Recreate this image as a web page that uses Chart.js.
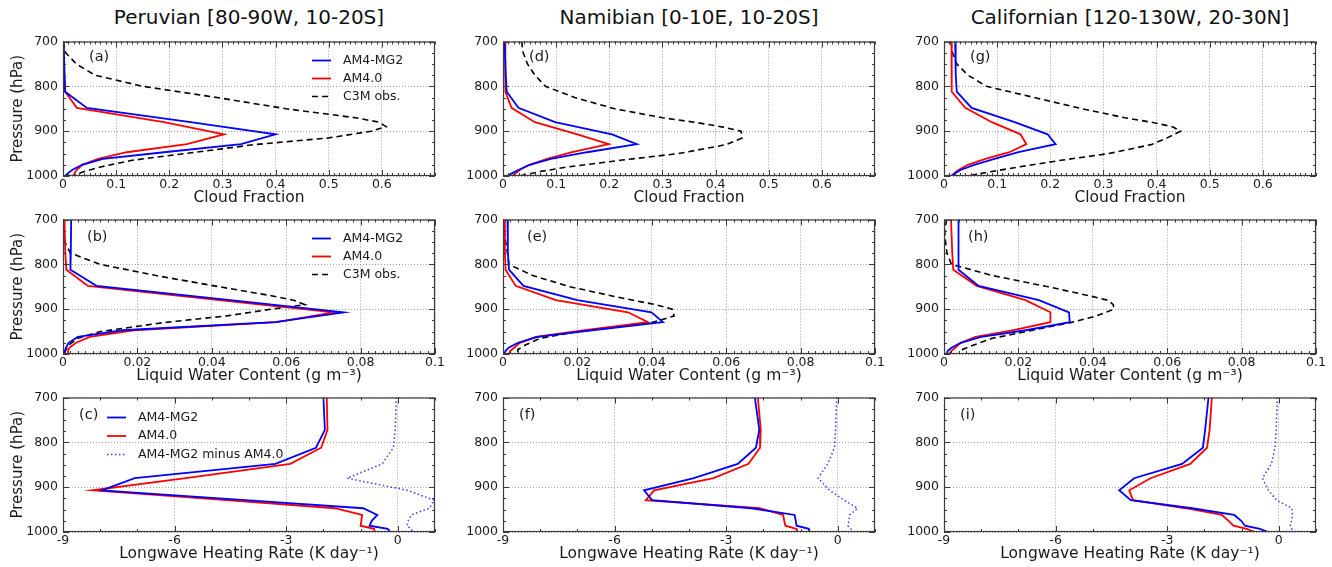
<!DOCTYPE html>
<html>
<head>
<meta charset="utf-8">
<script src="https://cdn.jsdelivr.net/npm/chart.js@4.4.1/dist/chart.umd.min.js"></script>
<style>
  body { margin: 0; background: #fff; width: 1332px; height: 567px; position: relative; overflow: hidden; font-family: "DejaVu Sans", sans-serif; }
  .panel { position: absolute; }
  .coltitle { position: absolute; top: 5px; font-size: 20px; color: #111; white-space: nowrap; transform: translateX(-50%); }
</style>
</head>
<body>
<script>
// pressure levels (hPa)
const LEV = [700, 772, 812, 848, 880, 907, 929, 947, 962, 975, 986, 993, 1000];
const OBS_LEV = [700, 725, 750, 775, 800, 825, 850, 870, 880, 890, 900, 915, 930, 950, 965, 980, 990, 1000];

// cloud fraction
const cfPeruMG2 = [0.001, 0.003, 0.004, 0.045, 0.24, 0.40, 0.335, 0.19, 0.075, 0.036, 0.018, 0.01, 0.004];
const cfPeruAM4 = [0.001, 0.002, 0.004, 0.026, 0.19, 0.303, 0.233, 0.12, 0.066, 0.036, 0.026, 0.022, 0.02];
const cfPeruObs = [0.0, 0.005, 0.025, 0.06, 0.15, 0.29, 0.42, 0.55, 0.595, 0.608, 0.58, 0.50, 0.36, 0.23, 0.13, 0.07, 0.04, 0.016];
const cfNamMG2 = [0.003, 0.005, 0.007, 0.029, 0.098, 0.205, 0.252, 0.158, 0.09, 0.05, 0.03, 0.018, 0.008];
const cfNamAM4 = [0.004, 0.004, 0.005, 0.016, 0.06, 0.14, 0.199, 0.13, 0.083, 0.05, 0.032, 0.025, 0.017];
const cfNamObs = [0.035, 0.038, 0.046, 0.06, 0.08, 0.135, 0.21, 0.30, 0.36, 0.41, 0.448, 0.45, 0.42, 0.33, 0.22, 0.12, 0.07, 0.03];
const cfCalMG2 = [0.021, 0.022, 0.024, 0.052, 0.133, 0.195, 0.21, 0.14, 0.095, 0.057, 0.032, 0.022, 0.013];
const cfCalAM4 = [0.014, 0.014, 0.015, 0.04, 0.09, 0.144, 0.155, 0.123, 0.078, 0.045, 0.028, 0.02, 0.016];
const cfCalObs = [0.013, 0.016, 0.024, 0.045, 0.08, 0.17, 0.26, 0.34, 0.39, 0.43, 0.445, 0.42, 0.39, 0.31, 0.22, 0.14, 0.09, 0.044];

// liquid water content (g m-3)
const lwcPeruMG2 = [0.0022, 0.0021, 0.002, 0.009, 0.045, 0.0755, 0.057, 0.016, 0.004, 0.0015, 0.0008, 0.0005, 0.0003];
const lwcPeruAM4 = [0.0004, 0.0006, 0.0009, 0.0067, 0.042, 0.0728, 0.0575, 0.019, 0.0072, 0.0035, 0.0017, 0.0013, 0.0015];
const lwcPeruObs = [0, 0, 0.0005, 0.002, 0.01, 0.025, 0.042, 0.056, 0.062, 0.065, 0.056, 0.044, 0.027, 0.01, 0.004, 0.0015, 0.0008, 0.0003];
const lwcNamMG2 = [0.0012, 0.0013, 0.0016, 0.0055, 0.02, 0.0399, 0.043, 0.024, 0.0093, 0.004, 0.0015, 0.0007, 0.0003];
const lwcNamAM4 = [0.0003, 0.0005, 0.0007, 0.0034, 0.0142, 0.0336, 0.039, 0.022, 0.0088, 0.0045, 0.003, 0.002, 0.0016];
const lwcNamObs = [0, 0.0003, 0.0007, 0.0012, 0.0016, 0.008, 0.018, 0.029, 0.035, 0.041, 0.0455, 0.046, 0.04, 0.02, 0.01, 0.006, 0.004, 0.004];
const lwcCalMG2 = [0.0039, 0.0039, 0.0039, 0.0093, 0.0255, 0.0336, 0.0338, 0.022, 0.01, 0.0045, 0.002, 0.001, 0.0007];
const lwcCalAM4 = [0.0019, 0.0022, 0.0025, 0.0088, 0.0219, 0.0286, 0.0286, 0.0187, 0.0085, 0.0045, 0.003, 0.002, 0.0014];
const lwcCalObs = [0.0007, 0.0002, 0.0004, 0.0008, 0.002, 0.013, 0.028, 0.039, 0.044, 0.0455, 0.0457, 0.041, 0.034, 0.022, 0.013, 0.008, 0.005, 0.004];

// longwave heating rate (K day-1)
const lwhPeruMG2 = [-2.0, -1.96, -2.2, -3.29, -7.07, -7.96, -4.1, -0.93, -0.55, -0.7, -0.76, -0.27, -0.2];
const lwhPeruAM4 = [-1.91, -1.89, -2.06, -2.89, -5.7, -8.21, -4.6, -1.69, -0.96, -0.98, -1.0, -0.64, -0.62];
const lwhPeruDiff = [-0.04, -0.07, -0.12, -0.42, -1.36, 0.25, 0.98, 0.85, 0.36, 0.28, 0.25, 0.35, 0.42];
const lwhNamMG2 = [-2.23, -2.11, -2.2, -2.69, -3.87, -5.21, -4.99, -2.32, -1.16, -1.13, -1.11, -0.78, -0.76];
const lwhNamAM4 = [-2.15, -2.07, -2.09, -2.4, -3.34, -4.94, -5.16, -2.1, -1.47, -1.44, -1.41, -1.11, -1.1];
const lwhNamDiff = [-0.03, -0.06, -0.09, -0.27, -0.53, -0.22, 0.17, 0.53, 0.32, 0.3, 0.27, 0.35, 0.4];
const lwhCalMG2 = [-1.89, -1.98, -2.04, -2.6, -3.89, -4.29, -3.98, -2.33, -1.2, -1.01, -0.91, -0.51, -0.28];
const lwhCalAM4 = [-1.8, -1.86, -1.93, -2.38, -3.45, -4.02, -3.92, -2.5, -1.53, -1.35, -1.22, -0.86, -0.64];
const lwhCalDiff = [-0.04, -0.07, -0.1, -0.2, -0.44, -0.28, -0.06, 0.35, 0.37, 0.34, 0.31, 0.35, 0.37];

// axis ticks
const P_TICKS = [700, 800, 900, 1000];
const CF_TICKS = [0, 0.1, 0.2, 0.3, 0.4, 0.5, 0.6];
const LWC_TICKS = [0, 0.02, 0.04, 0.06, 0.08, 0.1];
const LWH_TICKS = [-9, -6, -3, 0];

const COL_TITLES = ['Peruvian [80-90W, 10-20S]', 'Namibian [0-10E, 10-20S]', 'Californian [120-130W, 20-30N]'];

Chart.defaults.font.family = '"DejaVu Sans", sans-serif';
Chart.defaults.color = '#1a1a1a';

const COL_LEFT = [63, 503, 944];
const ROW_TOP = [39, 217, 395];
const PW = 372, PH = 137;
const PAD_T = 10, PAD_R = 16, PAD_B = 31;

const kinds = {
  cf: { min: 0, max: 0.7, ticks: CF_TICKS, minor: 0.01, title: 'Cloud Fraction' },
  lwc: { min: 0, max: 0.1, ticks: LWC_TICKS, minor: 0.002, title: 'Liquid Water Content (g m\u207B\u00B3)' },
  lwh: { min: -9, max: 1, ticks: LWH_TICKS, minor: 1, title: 'Longwave Heating Rate (K day\u207B\u00B9)' }
};

const panels = [
  { col: 0, row: 0, letter: '(a)', kind: 'cf', s: [cfPeruMG2, cfPeruAM4, cfPeruObs], legend: { x: 249, y: 19, gap: 18 } },
  { col: 0, row: 1, letter: '(b)', kind: 'lwc', s: [lwcPeruMG2, lwcPeruAM4, lwcPeruObs], legend: { x: 249, y: 19, gap: 18 } },
  { col: 0, row: 2, letter: '(c)', kind: 'lwh', s: [lwhPeruMG2, lwhPeruAM4, lwhPeruDiff], legend: { x: 44, y: 20, gap: 18.5 } },
  { col: 1, row: 0, letter: '(d)', kind: 'cf', s: [cfNamMG2, cfNamAM4, cfNamObs] },
  { col: 1, row: 1, letter: '(e)', kind: 'lwc', s: [lwcNamMG2, lwcNamAM4, lwcNamObs] },
  { col: 1, row: 2, letter: '(f)', kind: 'lwh', s: [lwhNamMG2, lwhNamAM4, lwhNamDiff] },
  { col: 2, row: 0, letter: '(g)', kind: 'cf', s: [cfCalMG2, cfCalAM4, cfCalObs] },
  { col: 2, row: 1, letter: '(h)', kind: 'lwc', s: [lwcCalMG2, lwcCalAM4, lwcCalObs] },
  { col: 2, row: 2, letter: '(i)', kind: 'lwh', s: [lwhCalMG2, lwhCalAM4, lwhCalDiff] }
];
const LETTER_POS = [[26, 16], [24, 18], [16, 18]];

function series(xs, levs, label, color, width, dash) {
  return {
    label: label,
    data: levs.map((p, i) => ({ x: xs[i], y: p })),
    borderColor: color,
    borderWidth: width,
    borderDash: dash,
    showLine: true,
    pointRadius: 0,
    fill: false
  };
}

// frame, inward ticks, panel letter and legend inside the axes
const decor = {
  id: 'decor',
  afterDraw(chart, args, o) {
    const { ctx, chartArea: a, scales: { x, y } } = chart;
    ctx.save();
    ctx.strokeStyle = '#3a3a3a';
    ctx.lineWidth = 1;
    ctx.beginPath();
    const nx = Math.round((x.max - x.min) / o.xMinor);
    for (let i = 0; i <= nx; i++) {
      const v = x.min + i * o.xMinor;
      const px = Math.round(x.getPixelForValue(v)) + 0.5;
      const len = o.xMajor.some((m) => Math.abs(m - v) < 1e-9) ? 6 : 3;
      ctx.moveTo(px, a.bottom); ctx.lineTo(px, a.bottom - len);
      ctx.moveTo(px, a.top); ctx.lineTo(px, a.top + len);
    }
    for (let p = 700; p <= 1000; p += 25) {
      const py = Math.round(y.getPixelForValue(p)) + 0.5;
      const len = p % 100 === 0 ? 6 : 3;
      ctx.moveTo(a.left, py); ctx.lineTo(a.left + len, py);
      ctx.moveTo(a.right, py); ctx.lineTo(a.right - len, py);
    }
    ctx.stroke();
    ctx.lineWidth = 1.2;
    ctx.strokeRect(a.left + 0.5, a.top + 0.5, a.width - 1, a.height - 1);

    ctx.fillStyle = '#1a1a1a';
    ctx.textBaseline = 'middle';
    ctx.textAlign = 'left';
    ctx.font = '14.5px "DejaVu Sans"';
    ctx.fillText(o.letter, a.left + o.lx, a.top + o.ly);

    if (o.legend) {
      const lg = o.legend;
      ctx.font = '12.5px "DejaVu Sans"';
      chart.data.datasets.forEach((ds, i) => {
        const yy = a.top + lg.y + i * lg.gap;
        ctx.strokeStyle = ds.borderColor;
        ctx.lineWidth = ds.borderWidth;
        ctx.setLineDash(ds.borderDash || []);
        ctx.beginPath();
        ctx.moveTo(a.left + lg.x, yy);
        ctx.lineTo(a.left + lg.x + 19, yy);
        ctx.stroke();
        ctx.setLineDash([]);
        ctx.fillText(ds.label, a.left + lg.x + 31, yy);
      });
    }
    ctx.restore();
  }
};

panels.forEach((pn) => {
  const k = kinds[pn.kind];
  const padL = pn.col === 0 ? 63 : 50;
  const left = COL_LEFT[pn.col] - padL;
  const top = ROW_TOP[pn.row] - PAD_T;
  const w = padL + PW + PAD_R;
  const h = PAD_T + PH + PAD_B;

  const box = document.createElement('div');
  box.className = 'panel';
  box.style.left = left + 'px';
  box.style.top = top + 'px';
  const cv = document.createElement('canvas');
  cv.width = w; cv.height = h;
  cv.style.width = w + 'px'; cv.style.height = h + 'px';
  box.appendChild(cv);
  document.body.appendChild(box);

  const third = pn.kind === 'lwh'
    ? series(pn.s[2], LEV, 'AM4-MG2 minus AM4.0', '#3b3bff', 1.5, [1.5, 2.5])
    : series(pn.s[2], OBS_LEV, 'C3M obs.', '#000000', 1.6, [6, 4]);

  new Chart(cv, {
    type: 'scatter',
    data: {
      datasets: [
        series(pn.s[0], LEV, 'AM4-MG2', '#0000ff', 1.8, []),
        series(pn.s[1], LEV, 'AM4.0', '#ff0000', 1.8, []),
        third
      ]
    },
    options: {
      responsive: false,
      animation: false,
      devicePixelRatio: 1,
      events: [],
      layout: { padding: { left: 0, right: PAD_R, top: PAD_T, bottom: 0 } },
      plugins: {
        legend: { display: false },
        tooltip: { enabled: false },
        decor: {
          letter: pn.letter, lx: LETTER_POS[pn.row][0], ly: LETTER_POS[pn.row][1],
          legend: pn.legend, xMinor: k.minor, xMajor: k.ticks
        }
      },
      scales: {
        x: {
          type: 'linear',
          min: k.min,
          max: k.max,
          afterBuildTicks: (s) => { s.ticks = k.ticks.map((v) => ({ value: v })); },
          afterFit: (s) => { s.height = PAD_B; },
          grid: { color: '#a0a0a0', lineWidth: 1, drawTicks: false },
          border: { display: false, dash: [1, 2] },
          ticks: { padding: 1, maxRotation: 0, autoSkip: false, font: { size: 12.5 }, callback: (v) => String(v) },
          title: { display: true, text: k.title, font: { size: 15.5 }, padding: { top: 0, bottom: 0 } }
        },
        y: {
          type: 'linear',
          reverse: true,
          min: 700,
          max: 1000,
          afterBuildTicks: (s) => { s.ticks = P_TICKS.map((v) => ({ value: v })); },
          afterFit: (s) => { s.width = padL; },
          grid: { color: '#a0a0a0', lineWidth: 1, drawTicks: false },
          border: { display: false, dash: [1, 2] },
          ticks: { padding: 5, font: { size: 12.5 }, callback: (v) => String(v) },
          title: { display: pn.col === 0, text: 'Pressure (hPa)', font: { size: 15 }, padding: { top: 9, bottom: 0 } }
        }
      }
    },
    plugins: [decor]
  });
});

COL_TITLES.forEach((t, i) => {
  const d = document.createElement('div');
  d.className = 'coltitle';
  d.textContent = t;
  d.style.left = (COL_LEFT[i] + PW / 2) + 'px';
  document.body.appendChild(d);
});
</script>
</body>
</html>
